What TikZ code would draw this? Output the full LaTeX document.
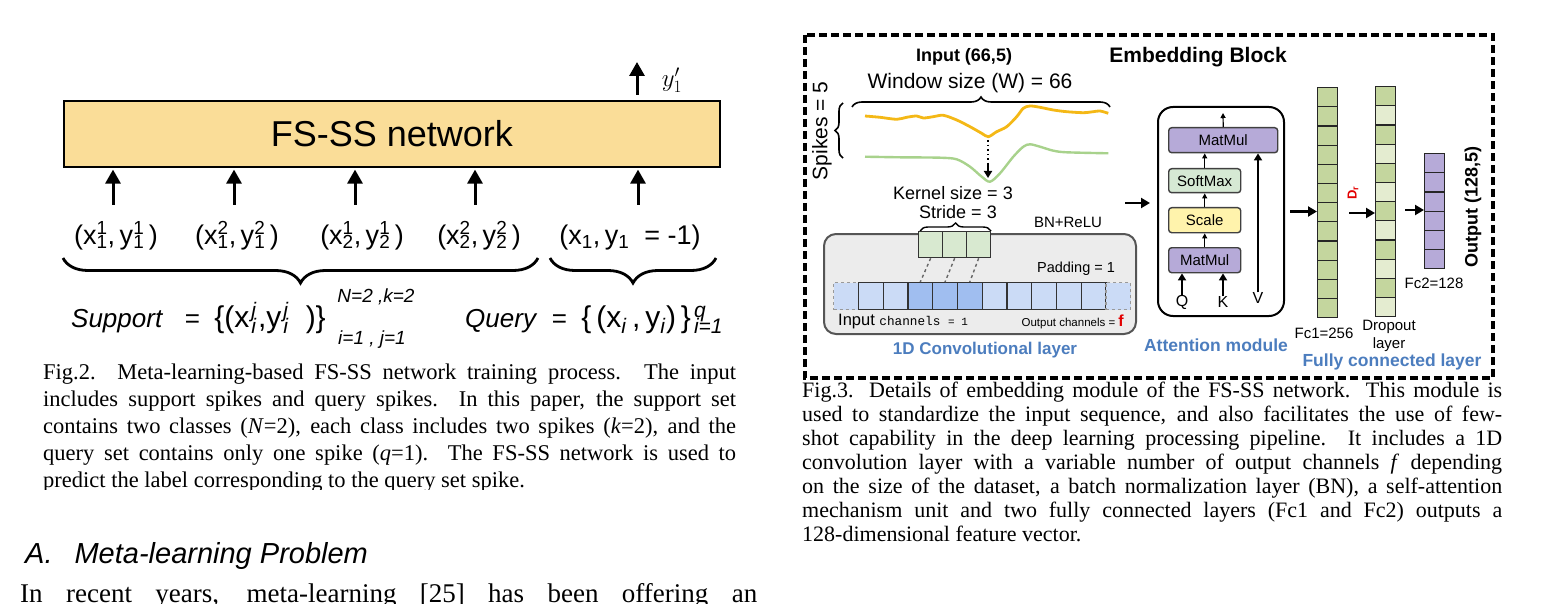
\documentclass[tikz,border=0pt]{standalone}
\usepackage{fontspec}
\setmainfont{Liberation Serif}
\setmonofont{Liberation Mono}
\newfontfamily\arial{Liberation Sans}
\usetikzlibrary{arrows.meta,decorations.pathreplacing}

\definecolor{netfill}{RGB}{250,221,152}
\definecolor{wavey}{RGB}{244,184,22}
\definecolor{waveg}{RGB}{168,210,140}
\definecolor{kern}{RGB}{216,233,208}
\definecolor{convbg}{RGB}{236,236,236}
\definecolor{convln}{RGB}{85,85,85}
\definecolor{cellb}{RGB}{203,219,246}
\definecolor{celld}{RGB}{160,190,240}
\definecolor{lblue}{RGB}{76,125,190}
\definecolor{mauve}{RGB}{182,170,216}
\definecolor{mint}{RGB}{214,233,212}
\definecolor{pale}{RGB}{255,243,172}
\definecolor{olive}{RGB}{196,214,158}
\definecolor{olivel}{RGB}{228,236,208}
\definecolor{redf}{RGB}{226,0,0}

\newcommand{\fsz}[1]{\fontsize{#1}{#1}\selectfont}
\newcommand{\ud}[2]{\makebox[0pt][l]{\textsuperscript{#1}}\textsubscript{#2}}

\begin{document}
\begin{tikzpicture}[x=1pt,y=-1pt,
  every node/.style={inner sep=0pt,font=\arial},
  uparr/.style={line width=3pt,-{Triangle[length=14pt,width=15pt]}},
  tipL/.style={line width=2.2pt,-{Triangle[length=9pt,width=10pt]}},
  tipM/.style={line width=2pt,-{Triangle[length=7pt,width=8pt]}},
  tipS/.style={line width=1.2pt,-{Triangle[length=5pt,width=5pt]}},
  br/.style={decorate,decoration={brace,amplitude=#1}},
  lbl/.style={anchor=base,font=\arial\fsz{27}},
  cell/.style={draw=black!80,line width=1.3pt,minimum width=24.75pt,minimum height=27pt,anchor=north west},
  pad/.style={cell,fill=cellb,draw=black!40,dashed},
  lite/.style={cell,fill=cellb},
  dark/.style={cell,fill=celld},
  fc/.style={draw=black!85,line width=1.3pt,minimum width=20pt,minimum height=19.17pt,anchor=north west},
  blk/.style={draw=black!75,line width=1.4pt,rounded corners=3pt,anchor=north west,font=\arial\fsz{15}},
  bluelbl/.style={font=\arial\bfseries\fsz{17.5},text=lblue},
  capt/.style={anchor=base west,align=justify}]
\useasboundingbox (0,0) rectangle (1555,604);

% Fig. 2: training process
\node[draw,fill=netfill,line width=1.6pt,minimum width=656pt,minimum height=66pt,anchor=north west,font=\arial\fsz{36}] (net) at (63,100) {FS-SS network};
\node[lbl] (s1) at (116,244) {(x\ud11,\,y\ud11\,)};
\node[lbl] (s2) at (237,244) {(x\ud21,\,y\ud21\,)};
\node[lbl] (s3) at (362,244) {(x\ud12,\,y\ud12\,)};
\node[lbl] (s4) at (479,244) {(x\ud22,\,y\ud22\,)};
\node[lbl] (q1) at (630,244) {(x\textsubscript1,\,y\textsubscript1\ \ = -1)};
\foreach \x/\n in {113/1,234/2,355/3,475/4,638/5}
  \coordinate (t\n) at (\x,205);
\foreach \n in {1,...,5}
  \draw[uparr,shorten >=2pt] (t\n) -- (t\n |- net.south);
\coordinate (yo) at (637,62);
\draw[uparr,shorten <=5pt] (yo |- net.north) -- (yo);
\node[font=\fsz{26}] (yl) at (672,80) {$y'_1$};
\draw[br=25pt,line width=2.8pt] (538,258) -- (63,258);
\draw[br=25pt,line width=2.8pt] (716,258) -- (550,258);
\node[anchor=base west,font=\arial\fsz{26}] (sup) at (71,327) {\textit{Support}\ \ \ =\ \ {\fsz{30}\{(x\kern2pt\ud{\textit{j}}{\textit{i}}\kern1pt,y\kern2pt\ud{\textit{j}}{\textit{i}}\ \ )\}}};
\node[font=\arial\itshape\fsz{19}] (lim1) at (376,297) {N=2 ,k=2};
\node[font=\arial\itshape\fsz{19}] (lim2) at (372,340) {i=1 , j=1};
\node[anchor=base west,font=\arial\fsz{26}] (qry) at (465,327) {\textit{Query}\ \ =\ \ {\fsz{30}\{\,(x\textsubscript{\textit{i}}\,,\,y\textsubscript{\textit{i}})\,\}\kern3pt\ud{\textit{q}}{\textit{i=1}}}};

\begin{scope}
  \clip (0,340) rectangle (760,489);
  \node[capt,text width=693pt,font=\rmfamily\fontsize{22.5}{27}\selectfont] (cap2) at (43,379) {%
    \makebox[693pt][s]{Fig.2.\ \ Meta-learning-based FS-SS network training process. The input}\\
    \makebox[693pt][s]{includes support spikes and query spikes. In this paper, the support set}\\
    \makebox[693pt][s]{contains two classes (\textit{N}=2), each class includes two spikes (\textit{k}=2), and the}\\
    \makebox[693pt][s]{query set contains only one spike (\textit{q}=1). The FS-SS network is used to}\\
    \makebox[693pt][l]{predict the label corresponding to the query set spike.}};
\end{scope}
\node[anchor=base west,font=\arial\itshape\fsz{29}] (sec) at (25,563) {A.\hspace{22pt}Meta-learning Problem};
\node[anchor=base west,font=\rmfamily\fsz{27}] (par) at (20,602) {\makebox[737pt][s]{In recent years, meta-learning [25] has been offering an}};

% Fig. 3: embedding block
\draw[line width=3.5pt,dash pattern=on 8pt off 4pt] (805,35) rectangle (1493,378);
\node[font=\arial\bfseries\fsz{18}] (inp) at (964,57) {Input (66,5)};
\node[font=\arial\bfseries\fsz{21}] (emb) at (1198,57) {Embedding Block};
\node[font=\arial\fsz{21}] (win) at (970,83) {Window size (W) = 66};
\draw[br=10pt,line width=1.6pt] (852,107) -- (1110,107);
\node[rotate=90,font=\arial\fsz{21}] (spk) at (822,131) {Spikes = 5};
\draw[br=8pt,line width=1.6pt] (843,158) -- (843,103);
\draw[wavey,line width=2.8pt] plot[smooth,tension=0.5] coordinates {(865,116) (880,117.3) (896.7,119.3) (906.7,117.3) (916.7,116) (923.3,118) (933.3,116.7) (943.3,115.3) (956.7,120) (970,126.7) (981.7,133.3) (988.3,136.7) (996.7,131.7) (1006.7,126.7) (1016.7,116.7) (1023.3,108.3) (1030,106) (1040,107.3) (1053.3,110) (1066.7,111.7) (1083.3,112.7) (1093.3,111.7) (1100,111) (1108.3,113.3)};
\draw[waveg,line width=2.4pt] plot[smooth,tension=0.5] coordinates {(865,156.7) (900,157.3) (940,157.7) (956.7,159.3) (970,166.7) (981.7,176.7) (990,181.7) (1000,173.3) (1013.3,156.7) (1023.3,146.7) (1030,144.3) (1040,146.7) (1053.3,150.7) (1066.7,152.3) (1108.3,153.3)};
\coordinate (dip) at (988,140);
\coordinate (dipm) at (988,163);
\coordinate (dipe) at (988,178);
\draw[line width=1.6pt,dash pattern=on 1.6pt off 3pt] (dip) -- (dipm);
\draw[tipM] (dipm) -- (dipe);
\node[font=\arial\fsz{18}] (ks) at (953,193) {Kernel size = 3};
\node[font=\arial\fsz{18}] (st) at (958,212) {Stride = 3};
\draw[br=8pt,line width=1.4pt] (920,231) -- (991,231);
\node[font=\arial\fsz{15}] (bn) at (1068,222) {BN+ReLU};

\node[draw=convln,fill=convbg,line width=2pt,rounded corners=12pt,minimum width=312pt,minimum height=100pt,anchor=north west] (conv) at (823,233) {};
\foreach \i in {0,1,2}
  \node[cell,fill=kern,minimum width=24pt,minimum height=26pt] (k\i) at (918+24*\i,231) {};
\foreach \i/\s in {0/pad,1/lite,2/lite,3/dark,4/dark,5/dark,6/lite,7/lite,8/lite,9/lite,10/lite,11/pad}
  \node[\s] (c\i) at (833+24.75*\i,282) {};
\foreach \i/\j in {0/3,1/4,2/5}
  \draw[dashed,black!60,line width=1.4pt] (k\i.south) -- (c\j.north);
\node[font=\arial\fsz{14.5}] (pd) at (1076,269) {Padding = 1};
\node[anchor=west] (ic) at (838,322) {\arial\fsz{16.5}Input \ttfamily\fsz{12.7}channels \fsz{11}= 1};
\node[anchor=east] (oc) at (1124,322) {\arial\fsz{11.5}Output channels = {\color{redf}\bfseries\fsz{16}f}};
\node[bluelbl,font=\arial\bfseries\fsz{17}] (cl) at (985,350) {1D Convolutional layer};

% attention module
\node[draw,line width=2pt,rounded corners=15pt,minimum width=126pt,minimum height=209pt,anchor=north west] (att) at (1157,106) {};
\node[blk,fill=mauve,minimum width=109pt,minimum height=25pt] (mm2) at (1168,127) {MatMul};
\node[blk,fill=mint,minimum width=72pt,minimum height=24pt] (sm) at (1168,168) {SoftMax};
\node[blk,fill=pale,minimum width=72pt,minimum height=25pt] (sc) at (1168,207) {Scale};
\node[blk,fill=mauve,minimum width=72pt,minimum height=25pt] (mm1) at (1168,247) {MatMul};
\node[font=\arial\fsz{16}] (q) at (1182,302) {Q};
\node[font=\arial\fsz{16}] (k) at (1223,302) {K};
\node[font=\arial\fsz{16}] (v) at (1258,298) {V};
\coordinate (ao) at (1223,113);
\path[tipS] (mm1.north) edge (sc.south)
  (sc.north) edge (sm.south)
  (sm.north) edge (sm.north |- mm2.south)
  (mm2.north) edge (ao);
\path[tipM] (q.north) edge (q.north |- mm1.south)
  (k.north) edge (k.north |- mm1.south)
  (v.north) edge (v.north |- mm2.south);
\coordinate (ca) at (1125,203);
\draw[tipL,shorten >=7pt] (ca) -- (ca -| att.west);
\node[bluelbl] (am) at (1216,345) {Attention module};

% fully connected layers
\foreach \i in {0,...,11}
  \node[fc,fill=olive] (f\i) at (1317,87+19.17*\i) {};
\foreach \i in {0,2,...,10}
  \node[fc,fill=olive] (d\i) at (1375,86+19.17*\i) {};
\foreach \i in {1,3,...,11}
  \node[fc,fill=olivel] (d\i) at (1375,86+19.17*\i) {};
\foreach \i in {0,...,5}
  \node[fc,fill=mauve] (g\i) at (1424,153+19.17*\i) {};
\draw[tipL,shorten <=5pt] (att.east) -- (att.east -| f6.west);
\coordinate (dr) at (1349,213);
\draw[tipL] (dr) -- (dr -| d6.west);
\coordinate (dq) at (1405,210);
\draw[tipL] (dq) -- (dq -| g0.west);
\node[rotate=90,font=\arial\bfseries\fsz{13},text=redf] (drl) at (1353,193) {D\textsubscript{r}};
\node[font=\arial\fsz{15}] (fc1) at (1324,333) {Fc1=256};
\node[align=center,font=\arial\fontsize{15}{18}\selectfont] (dol) at (1389,336) {Dropout\\layer};
\node[font=\arial\fsz{15}] (fc2) at (1434,283) {Fc2=128};
\node[rotate=90,font=\arial\bfseries\fsz{18}] (out) at (1473,207) {Output (128,5)};
\node[bluelbl] (fcl) at (1392,362) {Fully connected layer};

\node[capt,text width=700pt,font=\rmfamily\fontsize{22}{24.1}\selectfont] (cap3) at (802,397) {%
  \makebox[700pt][s]{Fig.3. Details of embedding module of the FS-SS network. This module is}\\
  \makebox[700pt][s]{used to standardize the input sequence, and also facilitates the use of few-}\\
  \makebox[700pt][s]{shot capability in the deep learning processing pipeline. It includes a 1D}\\
  \makebox[700pt][s]{convolution layer with a variable number of output channels \textit{f} depending}\\
  \makebox[700pt][s]{on the size of the dataset, a batch normalization layer (BN), a self-attention}\\
  \makebox[700pt][s]{mechanism unit and two fully connected layers (Fc1 and Fc2) outputs a}\\
  \makebox[700pt][l]{128-dimensional feature vector.}};
\end{tikzpicture}
\end{document}
